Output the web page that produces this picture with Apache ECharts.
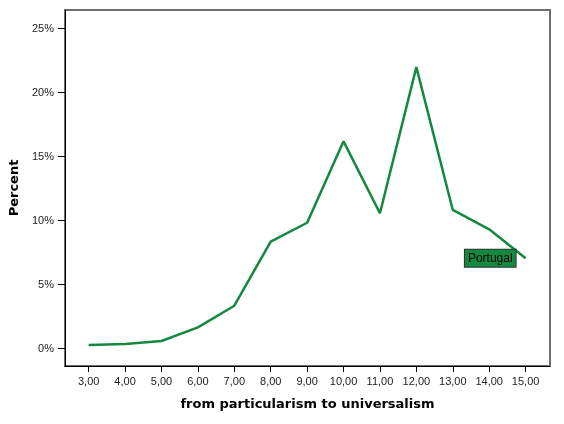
<!DOCTYPE html>
<html>
<head>
<meta charset="utf-8">
<script src="https://cdn.jsdelivr.net/npm/echarts@6/dist/echarts.min.js"></script>
<style>html,body{margin:0;padding:0;background:#fff}#c{width:564px;height:424px}</style>
</head>
<body>
<div id="c"></div>
<script>
const xValues = [3, 4, 5, 6, 7, 8, 9, 10, 11, 12, 13, 14, 15];
const percentValues = [0.29, 0.37, 0.6, 1.67, 3.36, 8.36, 9.84, 16.2, 10.58, 22.0, 10.84, 9.33, 7.06];
const yTicks = [0, 5, 10, 15, 20, 25];
const xTicks = [3, 4, 5, 6, 7, 8, 9, 10, 11, 12, 13, 14, 15];
const seriesName = 'Portugal';
const xTitle = 'from particularism to universalism';
const yTitle = 'Percent';

const data = xValues.map((x, i) => {
  const item = { value: [x, percentValues[i]] };
  if (i === xValues.length - 1) {
    item.label = {
      show: true, position: 'left', distance: 10,
      formatter: seriesName,
      color: '#000', fontSize: 12, fontFamily: 'Liberation Sans',
      backgroundColor: '#138a42', borderColor: '#333', borderWidth: 1,
      padding: [3, 3, 2, 3]
    };
  }
  return item;
});

const font = 'Liberation Sans';
const chart = echarts.init(document.getElementById('c'), null, { renderer: 'canvas' });
chart.setOption({
  animation: false,
  grid: { left: 65, right: 14, top: 10, bottom: 58, show: true, borderColor: '#6e6e6e', borderWidth: 2, backgroundColor: '#fff' },
  xAxis: {
    type: 'value', min: 2.35, max: 15.67,
    name: xTitle, nameLocation: 'middle', nameGap: 32,
    nameTextStyle: { fontFamily: 'DejaVu Sans', fontSize: 13, fontWeight: 'bold', color: '#000' },
    axisLine: { show: true, onZero: false, lineStyle: { color: '#000', width: 1 } },
    axisTick: { show: true, length: 6, customValues: xTicks, lineStyle: { color: '#000' } },
    axisLabel: { customValues: xTicks, margin: 10, fontFamily: font, fontSize: 11, color: '#222',
      formatter: v => v.toFixed(2).replace('.', ',') },
    splitLine: { show: false }
  },
  yAxis: {
    type: 'value', min: -1.35, max: 26.46,
    name: yTitle, nameLocation: 'middle', nameGap: 37,
    nameTextStyle: { fontFamily: 'DejaVu Sans', fontSize: 13, fontWeight: 'bold', color: '#000' },
    axisLine: { show: true, onZero: false, lineStyle: { color: '#000', width: 1 } },
    axisTick: { show: true, length: 7, customValues: yTicks, lineStyle: { color: '#000' } },
    axisLabel: { customValues: yTicks, margin: 11, fontFamily: font, fontSize: 11, color: '#222',
      formatter: v => Math.round(v) + '%' },
    splitLine: { show: false }
  },
  series: [{
    name: seriesName, type: 'line', data: data,
    symbol: 'circle', symbolSize: 0, showSymbol: true,
    lineStyle: { color: '#15883f', width: 2.5 },
    itemStyle: { color: '#15883f' }
  }]
});
</script>
</body>
</html>
